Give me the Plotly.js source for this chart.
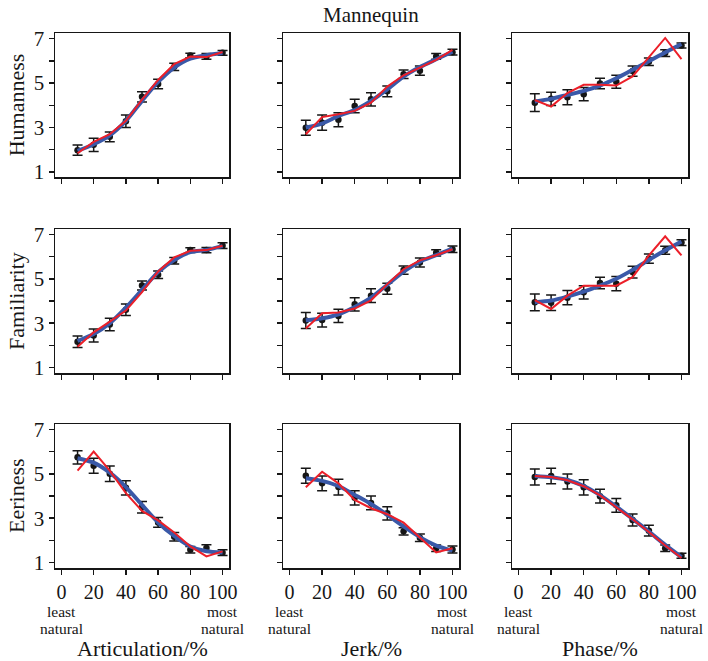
<!DOCTYPE html>
<html>
<head>
<meta charset="utf-8">
<script src="https://cdn.plot.ly/plotly-3.0.1.min.js"></script>
<style>html,body{margin:0;padding:0;background:#fff;}#chart{width:708px;height:661px;}</style>
</head>
<body>
<div id="chart"></div>
<script>
// ---- data ----
const xPercent = [10, 20, 30, 40, 50, 60, 70, 80, 90, 100];
const xTickVals = [0, 20, 40, 60, 80, 100];
const yTickVals = [1, 2, 3, 4, 5, 6, 7];
const yTickText = ['1', '', '3', '', '5', '', '7'];
const rowNames = ['Humanness', 'Familiarity', 'Eeriness'];
const colNames = ['Articulation/%', 'Jerk/%', 'Phase/%'];
const chartTitle = 'Mannequin';
const leastLabel = ['least', 'natural'];
const mostLabel = ['most', 'natural'];

// Humanness
const humArtMean  = [1.98, 2.22, 2.58, 3.28, 4.38, 4.96, 5.73, 6.24, 6.2, 6.36];
const humArtErr   = [0.23, 0.3, 0.22, 0.28, 0.23, 0.21, 0.16, 0.1, 0.13, 0.11];
const humArtFit   = [1.95, 2.25, 2.65, 3.3, 4.2, 5.05, 5.7, 6.1, 6.25, 6.35];
const humArtModel = [1.84, 2.35, 2.7, 3.3, 4.25, 5.14, 5.85, 6.19, 6.17, 6.4];

const humJerkMean  = [2.99, 3.22, 3.35, 3.97, 4.27, 4.63, 5.4, 5.56, 6.2, 6.39];
const humJerkErr   = [0.34, 0.34, 0.32, 0.3, 0.3, 0.24, 0.19, 0.21, 0.13, 0.13];
const humJerkFit   = [3.0, 3.18, 3.52, 3.79, 4.2, 4.72, 5.29, 5.72, 6.07, 6.41];
const humJerkModel = [2.7, 3.47, 3.6, 3.75, 4.12, 4.84, 5.35, 5.7, 6.04, 6.49];

const humPhaseMean  = [4.12, 4.29, 4.36, 4.5, 4.98, 5.06, 5.54, 5.96, 6.35, 6.69];
const humPhaseErr   = [0.4, 0.3, 0.34, 0.3, 0.24, 0.29, 0.23, 0.17, 0.15, 0.11];
const humPhaseFit   = [4.17, 4.29, 4.47, 4.65, 4.89, 5.22, 5.6, 5.98, 6.38, 6.76];
const humPhaseModel = [4.24, 3.94, 4.55, 4.92, 4.92, 4.89, 5.3, 6.16, 7.03, 6.08];

// Familiarity
const famArtMean  = [2.17, 2.45, 2.94, 3.61, 4.7, 5.18, 5.81, 6.29, 6.29, 6.49];
const famArtErr   = [0.26, 0.29, 0.28, 0.26, 0.2, 0.17, 0.15, 0.11, 0.12, 0.13];
const famArtFit   = [2.2, 2.51, 3.0, 3.7, 4.5, 5.3, 5.84, 6.2, 6.3, 6.47];
const famArtModel = [1.94, 2.59, 3.07, 3.57, 4.4, 5.33, 5.96, 6.26, 6.29, 6.49];

const famJerkMean  = [3.12, 3.14, 3.33, 3.85, 4.24, 4.55, 5.39, 5.73, 6.17, 6.33];
const famJerkErr   = [0.36, 0.31, 0.3, 0.3, 0.31, 0.25, 0.19, 0.2, 0.14, 0.15];
const famJerkFit   = [3.13, 3.22, 3.4, 3.73, 4.15, 4.73, 5.32, 5.77, 6.06, 6.36];
const famJerkModel = [2.76, 3.45, 3.48, 3.66, 4.03, 4.76, 5.43, 5.83, 6.06, 6.33];

const famPhaseMean  = [3.94, 3.92, 4.15, 4.39, 4.81, 4.78, 5.3, 5.91, 6.28, 6.63];
const famPhaseErr   = [0.38, 0.35, 0.32, 0.3, 0.26, 0.32, 0.26, 0.21, 0.18, 0.13];
const famPhaseFit   = [3.94, 4.02, 4.2, 4.42, 4.69, 5.0, 5.4, 5.85, 6.28, 6.68];
const famPhaseModel = [4.04, 3.64, 4.24, 4.69, 4.69, 4.69, 5.07, 6.05, 6.91, 6.05];

// Eeriness
const eerArtMean  = [5.74, 5.36, 5.0, 4.37, 3.49, 2.81, 2.17, 1.58, 1.66, 1.45];
const eerArtErr   = [0.3, 0.34, 0.35, 0.32, 0.26, 0.22, 0.19, 0.15, 0.15, 0.13];
const eerArtFit   = [5.7, 5.5, 5.05, 4.4, 3.6, 2.81, 2.2, 1.73, 1.51, 1.46];
const eerArtModel = [5.14, 6.0, 5.14, 4.13, 3.33, 2.9, 2.36, 1.73, 1.28, 1.51];

const eerJerkMean  = [4.91, 4.57, 4.4, 3.92, 3.69, 3.22, 2.41, 2.12, 1.65, 1.59];
const eerJerkErr   = [0.34, 0.33, 0.35, 0.32, 0.31, 0.3, 0.16, 0.17, 0.15, 0.16];
const eerJerkFit   = [4.8, 4.68, 4.45, 4.05, 3.64, 3.15, 2.63, 2.15, 1.77, 1.54];
const eerJerkModel = [4.39, 5.09, 4.57, 3.82, 3.45, 3.18, 2.8, 2.15, 1.46, 1.65];

const eerPhaseMean  = [4.86, 4.9, 4.65, 4.39, 3.99, 3.58, 2.92, 2.44, 1.65, 1.31];
const eerPhaseErr   = [0.36, 0.35, 0.34, 0.34, 0.31, 0.31, 0.27, 0.24, 0.15, 0.11];
const eerPhaseFit   = [4.9, 4.84, 4.72, 4.45, 4.04, 3.52, 2.97, 2.4, 1.8, 1.25];
const eerPhaseModel = [4.9, 4.85, 4.71, 4.44, 4.03, 3.5, 2.95, 2.38, 1.77, 1.21];

const panels = [
  [humArtMean, humArtErr, humArtFit, humArtModel],
  [humJerkMean, humJerkErr, humJerkFit, humJerkModel],
  [humPhaseMean, humPhaseErr, humPhaseFit, humPhaseModel],
  [famArtMean, famArtErr, famArtFit, famArtModel],
  [famJerkMean, famJerkErr, famJerkFit, famJerkModel],
  [famPhaseMean, famPhaseErr, famPhaseFit, famPhaseModel],
  [eerArtMean, eerArtErr, eerArtFit, eerArtModel],
  [eerJerkMean, eerJerkErr, eerJerkFit, eerJerkModel],
  [eerPhaseMean, eerPhaseErr, eerPhaseFit, eerPhaseModel]
];

// ---- layout geometry ----
const W = 708, H = 661;
const colPx = [[55, 229], [283, 459], [512, 688]];
const rowPx = [[33.3, 177.3], [229, 373], [424, 568]];
const FONT = 'Liberation Serif, Times New Roman, serif';
const BLUE = '#3a59a8';
const RED = '#ec1f29';
const INK = '#161616';

const traces = [];
const layout = {
  width: W, height: H,
  margin: {l: 0, r: 0, t: 0, b: 0},
  paper_bgcolor: '#fff', plot_bgcolor: '#fff',
  showlegend: false,
  font: {family: FONT, color: INK, size: 20},
  annotations: [],
  title: {text: ''}
};

panels.forEach((p, i) => {
  const r = Math.floor(i / 3), c = i % 3;
  const n = i + 1;
  const xa = n === 1 ? 'x' : 'x' + n;
  const ya = n === 1 ? 'y' : 'y' + n;
  traces.push({
    x: xPercent, y: p[0], xaxis: xa, yaxis: ya, type: 'scatter', mode: 'markers',
    marker: {color: INK, size: 6.5},
    error_y: {type: 'data', array: p[1], visible: true, color: INK, thickness: 1.5, width: 5}
  });
  traces.push({
    x: xPercent, y: p[2], xaxis: xa, yaxis: ya, type: 'scatter', mode: 'lines',
    line: {color: BLUE, width: 4, shape: 'spline', smoothing: 0.8}
  });
  traces.push({
    x: xPercent, y: p[3], xaxis: xa, yaxis: ya, type: 'scatter', mode: 'lines',
    line: {color: RED, width: 2}
  });
  const key = n === 1 ? '' : String(n);
  layout['xaxis' + key] = {
    domain: [colPx[c][0] / W, colPx[c][1] / W],
    range: [-4, 104], anchor: ya,
    tickvals: xTickVals, ticktext: xTickVals.map(String),
    showticklabels: r === 2,
    ticks: 'outside', ticklen: 5, tickwidth: 1.5, tickcolor: INK,
    showline: true, mirror: true, linecolor: INK, linewidth: 1.5,
    showgrid: false, zeroline: false, fixedrange: true,
    tickfont: {family: FONT, size: 20, color: INK}
  };
  layout['yaxis' + key] = {
    domain: [1 - rowPx[r][1] / H, 1 - rowPx[r][0] / H],
    range: [0.76, 7.24], anchor: xa,
    tickvals: yTickVals, ticktext: yTickText,
    showticklabels: c === 0,
    ticks: 'outside', ticklen: 5, tickwidth: 1.5, tickcolor: INK,
    showline: true, mirror: true, linecolor: INK, linewidth: 1.5,
    showgrid: false, zeroline: false, fixedrange: true,
    tickfont: {family: FONT, size: 21, color: INK}
  };
});

// titles and labels
layout.annotations.push({
  text: chartTitle, xref: 'paper', yref: 'paper',
  x: (colPx[1][0] + colPx[1][1]) / 2 / W, y: 1 - 15 / H,
  xanchor: 'center', yanchor: 'middle', showarrow: false,
  font: {family: FONT, size: 21, color: INK}
});
rowNames.forEach((name, r) => {
  layout.annotations.push({
    text: name, xref: 'paper', yref: 'paper',
    x: 16 / W, y: 1 - (rowPx[r][0] + rowPx[r][1]) / 2 / H,
    xanchor: 'center', yanchor: 'middle', textangle: -90, showarrow: false,
    font: {family: FONT, size: 22, color: INK}
  });
});
colNames.forEach((name, c) => {
  const xa = 'x' + (7 + c);
  layout.annotations.push({
    text: name, xref: 'paper', yref: 'paper',
    x: (colPx[c][0] + colPx[c][1]) / 2 / W, y: 1 - 648.5 / H,
    xanchor: 'center', yanchor: 'middle', showarrow: false,
    font: {family: FONT, size: 22, color: INK}
  });
  [[0, leastLabel], [100, mostLabel]].forEach(([xv, lines]) => {
    lines.forEach((t, k) => {
      layout.annotations.push({
        text: t, xref: xa, yref: 'paper',
        x: xv, y: 1 - (611 + 17 * k) / H,
        xanchor: 'center', yanchor: 'middle', showarrow: false,
        font: {family: FONT, size: 15.5, color: INK}
      });
    });
  });
});

Plotly.newPlot('chart', traces, layout, {displayModeBar: false, staticPlot: true});
</script>
</body>
</html>
